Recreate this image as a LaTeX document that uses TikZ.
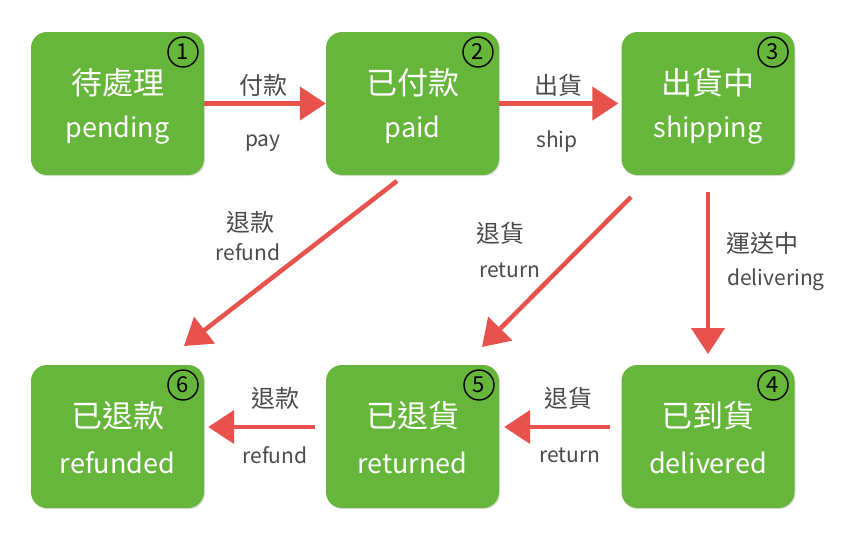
\documentclass[tikz,border=0pt]{standalone}
\usepackage{fontspec}
\setmainfont{Noto Sans CJK TC}
\usetikzlibrary{arrows.meta,shadows}
\definecolor{boxgreen}{HTML}{66B63B}
\definecolor{arrred}{HTML}{E8524C}
\definecolor{labgray}{HTML}{4A4A4A}
\tikzset{
  statebox/.style={draw=none,fill=boxgreen,rounded corners=16pt,minimum width=173pt,minimum height=143pt,inner sep=0pt,
    drop shadow={opacity=0.25,shadow xshift=1pt,shadow yshift=-1.2pt}},
  zh/.style={text=white,font=\fontsize{31}{31}\selectfont,inner sep=0pt},
  en/.style={text=white,font=\fontsize{27}{27}\selectfont,inner sep=0pt},
  numcirc/.style={circle,draw=black,line width=1.4pt,minimum size=30pt,inner sep=0pt,font=\fontsize{22}{22}\selectfont},
  flow/.style={draw=arrred,line width=4.5pt,-{Triangle[length=26pt,width=33pt]}},
  lzh/.style={text=labgray,font=\fontsize{24}{24}\selectfont,inner sep=0pt},
  len/.style={text=labgray,font=\fontsize{21}{21}\selectfont,inner sep=0pt},
}
\begin{document}
\begin{tikzpicture}[x=1pt,y=-1pt]
\useasboundingbox[fill=white] (0,0) rectangle (852,538);
% boxes
\node[statebox] (b1) at (117.5,103.5) {};
\node[statebox] (b2) at (412.5,103.5) {};
\node[statebox] (b3) at (708,103.5) {};
\node[statebox] (b4) at (708,436.5) {};
\node[statebox] (b5) at (412.5,436.5) {};
\node[statebox] (b6) at (117.5,436.5) {};
% texts
\node[zh] (t1z) at (117.5,83) {待處理};
\node[en] (t1e) at (117.5,130) {pending};
\node[zh] (t2z) at (412.5,83) {已付款};
\node[en] (t2e) at (412.5,130) {paid};
\node[zh] (t3z) at (708,83) {出貨中};
\node[en] (t3e) at (708,130) {shipping};
\node[zh] (t4z) at (708,416) {已到貨};
\node[en] (t4e) at (708,463) {delivered};
\node[zh] (t5z) at (412.5,416) {已退貨};
\node[en] (t5e) at (412.5,463) {returned};
\node[zh] (t6z) at (117.5,416) {已退款};
\node[en] (t6e) at (117.5,463) {refunded};
% numbers
\node[numcirc] (n1) at (183,52) {1};
\node[numcirc] (n2) at (478,52) {2};
\node[numcirc] (n3) at (773,52) {3};
\node[numcirc] (n4) at (773,385) {4};
\node[numcirc] (n5) at (479,385) {5};
\node[numcirc] (n6) at (183,385) {6};
% coordinates
\coordinate (r1) at (397,181);
\coordinate (r2) at (184,346);
\coordinate (s1) at (631,197);
\coordinate (s2) at (482,347);
\coordinate (d1) at (708,192);
\coordinate (d2) at (708,354);
% arrows
\draw[flow] (b1.east) -- (b2.west);
\draw[flow] (b2.east) -- ([xshift=-3pt]b3.west);
\draw[flow] (r1) -- (r2);
\draw[flow] (s1) -- (s2);
\draw[flow] (d1) -- (d2);
\draw[flow,shorten <=11pt,shorten >=5pt] (b4.west |- 0,427) -- (b5.east |- 0,427);
\draw[flow,shorten <=11pt,shorten >=4pt] (b5.west |- 0,427) -- (b6.east |- 0,427);
% labels
\node[lzh] (l1z) at (263,85) {付款};
\node[len] (l1e) at (263,143) {pay};
\node[lzh] (l2z) at (558,85) {出貨};
\node[len] (l2e) at (557,142) {ship};
\node[lzh] (l3z) at (250,222) {退款};
\node[len] (l3e) at (248,252) {refund};
\node[lzh] (l4z) at (500,233) {退貨};
\node[len] (l4e) at (510,270) {return};
\node[lzh] (l5z) at (762,243) {運送中};
\node[len] (l5e) at (776,280) {delivering};
\node[lzh] (l6z) at (568,398) {退貨};
\node[len] (l6e) at (570,455) {return};
\node[lzh] (l7z) at (275,398) {退款};
\node[len] (l7e) at (275,455) {refund};
\end{tikzpicture}
\end{document}
